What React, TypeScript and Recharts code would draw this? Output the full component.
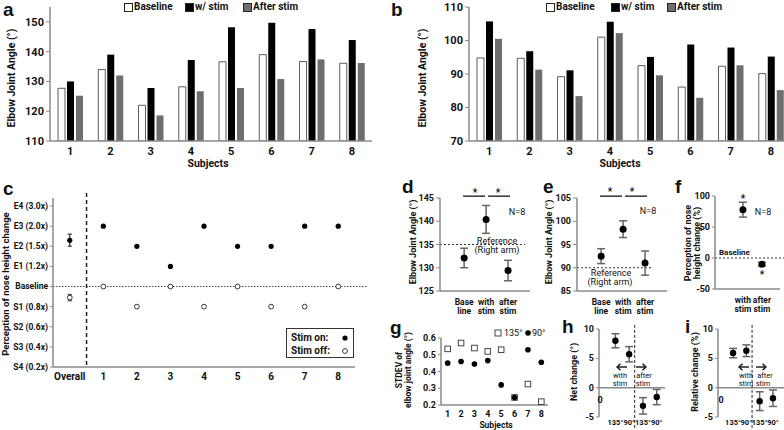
import React from "react";
import {
  BarChart,
  Bar,
  XAxis,
  YAxis,
  ScatterChart,
  Scatter,
  ErrorBar,
  ReferenceLine,
} from "recharts";

const FONT = "Roboto, sans-serif";
const LETTER_FONT = '"Liberation Sans", Arial, sans-serif';
const AXIS = "#8a8a8a";
const GRAY_BAR = "#6e6e6e";

// a / b : elbow angle per subject
const subjects = ["1", "2", "3", "4", "5", "6", "7", "8"];
const aBaseline = [127.7, 134, 122, 128.2, 136.6, 139, 136.7, 136.1];
const aWithStim = [130, 139, 127.8, 137.2, 148.2, 149.7, 147.6, 143.9];
const aAfterStim = [125.2, 132, 118.6, 126.7, 127.8, 130.8, 137.4, 136.2];
const bBaseline = [94.8, 94.7, 89.2, 101, 92.5, 86.1, 92.3, 90.1];
const bWithStim = [105.7, 96.8, 91.1, 105.6, 95.1, 98.8, 97.9, 95.2];
const bAfterStim = [100.5, 91.3, 83.4, 102.2, 89.6, 82.9, 92.6, 85.2];

// c : perception levels (0 = S4 ... 8 = E4)
const levels = [
  "S4 (0.2x)",
  "S3 (0.4x)",
  "S2 (0.6x)",
  "S1 (0.8x)",
  "Baseline",
  "E1 (1.2x)",
  "E2 (1.5x)",
  "E3 (2.0x)",
  "E4 (3.0x)",
];
const stimOnLevel = [7, 6, 5, 7, 6, 6, 7, 7];
const stimOffLevel = [4, 3, 4, 3, 4, 3, 3, 4];
const overallOn = 6.3;
const overallOnErr = 0.3;
const overallOff = 3.45;
const overallOffErr = 0.15;

// d / e / f : group means
const conditions = ["Base line", "with stim", "after stim"];
const dMean = [132.1, 140.4, 129.4];
const dErr = [2.1, 3.0, 2.2];
const eMean = [92.5, 98.3, 91.0];
const eErr = [1.6, 1.8, 2.6];
const fConditions = ["with stim", "after stim"];
const fMean = [78, -10];
const fErr = [12, 3];

// g : stdev per subject
const g135 = [0.535, 0.57, 0.54, 0.52, 0.53, 0.245, 0.325, 0.22];
const g90 = [0.45, 0.46, 0.445, 0.465, 0.32, 0.245, 0.53, 0.455];

// h / i : change by angle
const angleLabels = ["135°", "90°", "135°", "90°"];
const hMean = [8, 5.7, -3.1, -1.6];
const hErr = [1.2, 1.3, 1.4, 1.3];
const iMean = [5.9, 6.3, -2.3, -1.8];
const iErr = [0.8, 1.0, 1.6, 1.4];

const aData = subjects.map((s, i) => ({
  s,
  base: aBaseline[i],
  withStim: aWithStim[i],
  after: aAfterStim[i],
}));
const bData = subjects.map((s, i) => ({
  s,
  base: bBaseline[i],
  withStim: bWithStim[i],
  after: bAfterStim[i],
}));
const cOn = subjects.map((s, i) => ({ x: i + 1, y: stimOnLevel[i] }));
const cOff = subjects.map((s, i) => ({ x: i + 1, y: stimOffLevel[i] }));
const dData = conditions.map((c, i) => ({ x: i + 1, y: dMean[i], err: dErr[i] }));
const eData = conditions.map((c, i) => ({ x: i + 1, y: eMean[i], err: eErr[i] }));
const fData = fConditions.map((c, i) => ({ x: i + 1, y: fMean[i], err: fErr[i] }));
const g135Data = subjects.map((s, i) => ({ x: i + 1, y: g135[i] }));
const g90Data = subjects.map((s, i) => ({ x: i + 1, y: g90[i] }));
const hData = angleLabels.map((a, i) => ({ x: i + 1, y: hMean[i], err: hErr[i] }));
const iData = angleLabels.map((a, i) => ({ x: i + 1, y: iMean[i], err: iErr[i] }));

const axisLine = { stroke: AXIS, strokeWidth: 1.5 };

const dot = (r: number) => (p: any) =>
  <circle cx={p.cx} cy={p.cy} r={r} fill="#000" />;
const ring = (r: number) => (p: any) =>
  <circle cx={p.cx} cy={p.cy} r={r} fill="#fff" stroke="#222" strokeWidth={0.9} />;
const square = (p: any) => (
  <rect x={p.cx - 2.8} y={p.cy - 2.8} width={5.6} height={5.6} fill="#fff" stroke="#333" strokeWidth={0.9} />
);

// plain svg tick, no word wrapping
const PlainTick = (props: any) => {
  const { x, y, payload, fmt, anchor = "middle", dy = "0.35em", size = 11 } = props;
  return (
    <text x={x} y={y} dy={dy} textAnchor={anchor} fontSize={size} fontWeight={700} fill="#111">
      {fmt ? fmt(payload.value) : payload.value}
    </text>
  );
};

const TwoLineTick = (props: any) => {
  const { x, y, payload, labels, size = 8.5 } = props;
  const parts = String(labels[payload.value - 1] || "").split(" ");
  return (
    <g>
      <text x={x} y={y + 12} textAnchor="middle" fontSize={size} fontWeight={700} fill="#111">
        {parts[0]}
      </text>
      <text x={x} y={y + 21} textAnchor="middle" fontSize={size} fontWeight={700} fill="#111">
        {parts[1]}
      </text>
    </g>
  );
};

const Abs = ({ x, y, children }: any) => (
  <div style={{ position: "absolute", left: x, top: y }}>{children}</div>
);

const Txt = ({ x, y, size = 10, bold = true, rot = false, left = false, children }: any) => (
  <div
    style={{
      position: "absolute",
      left: x,
      top: y,
      transform: left
        ? "translate(0, -50%)"
        : `translate(-50%, -50%)${rot ? " rotate(-90deg)" : ""}`,
      fontSize: size,
      fontWeight: bold ? 700 : 400,
      whiteSpace: "nowrap",
      lineHeight: 1.0,
      textAlign: "center",
      color: "#111",
    }}
  >
    {children}
  </div>
);

const Letter = ({ x, y, children }: any) => (
  <div
    style={{
      position: "absolute",
      left: x,
      top: y,
      fontFamily: LETTER_FONT,
      fontSize: 19,
      fontWeight: 700,
      lineHeight: 1.0,
      color: "#111",
    }}
  >
    {children}
  </div>
);

const Swatch = ({ x, y, fill }: any) => (
  <div
    style={{
      position: "absolute",
      left: x,
      top: y,
      width: 7,
      height: 7,
      background: fill,
      border: "1px solid #222",
    }}
  />
);

// small horizontal arrow, drawn as svg so it stays crisp
const Arrow = ({ x, y, dir }: any) => (
  <svg style={{ position: "absolute", left: x - 6, top: y - 4 }} width={12} height={8}>
    <line x1={1} y1={4} x2={11} y2={4} stroke="#111" strokeWidth={1.4} />
    {dir < 0 ? (
      <polyline points="4.5,0.8 1,4 4.5,7.2" fill="none" stroke="#111" strokeWidth={1.4} />
    ) : (
      <polyline points="7.5,0.8 11,4 7.5,7.2" fill="none" stroke="#111" strokeWidth={1.4} />
    )}
  </svg>
);

const BarPanel = ({ data, domain, ticks }: any) => (
  <BarChart
    width={362}
    height={170}
    data={data}
    margin={{ top: 6, right: 0, left: 0, bottom: 0 }}
    barSize={7}
    barGap={2}
  >
    <XAxis
      dataKey="s"
      axisLine={axisLine}
      tickLine={false}
      tickSize={0}
      tick={<PlainTick size={11} dy="1.1em" />}
      height={30}
      interval={0}
    />
    <YAxis
      width={40}
      domain={domain}
      ticks={ticks}
      interval={0}
      axisLine={axisLine}
      tickLine={{ stroke: AXIS }}
      tickSize={4}
      tick={<PlainTick anchor="end" size={11} />}
      allowDataOverflow
    />
    <Bar dataKey="base" fill="#fff" stroke="#333" strokeWidth={0.8} isAnimationActive={false} />
    <Bar dataKey="withStim" fill="#000" isAnimationActive={false} />
    <Bar dataKey="after" fill={GRAY_BAR} isAnimationActive={false} />
  </BarChart>
);

const MeanPanel = ({ data, domain, ticks, refY, refEnd, sigY }: any) => (
  <ScatterChart width={120} height={129} margin={{ top: 10, right: 0, left: 0, bottom: 0 }}>
    <XAxis
      type="number"
      dataKey="x"
      domain={[-0.1, 4]}
      ticks={[1, 2, 3]}
      interval={0}
      tick={<TwoLineTick labels={conditions} size={8.5} />}
      tickLine={false}
      tickSize={0}
      axisLine={axisLine}
      height={26}
    />
    <YAxis
      type="number"
      dataKey="y"
      domain={domain}
      ticks={ticks}
      interval={0}
      width={30}
      axisLine={axisLine}
      tickLine={{ stroke: AXIS }}
      tickSize={4}
      tick={<PlainTick anchor="end" size={9} />}
    />
    <ReferenceLine
      segment={[{ x: -0.1, y: refY }, { x: refEnd, y: refY }]}
      stroke="#333"
      strokeDasharray="2 2"
      ifOverflow="visible"
    />
    <ReferenceLine
      segment={[{ x: 0.95, y: sigY }, { x: 1.95, y: sigY }]}
      stroke="#000"
      strokeWidth={1.2}
      ifOverflow="visible"
    />
    <ReferenceLine
      segment={[{ x: 2.09, y: sigY }, { x: 3.09, y: sigY }]}
      stroke="#000"
      strokeWidth={1.2}
      ifOverflow="visible"
    />
    <Scatter data={data} shape={dot(3.5)} isAnimationActive={false}>
      <ErrorBar dataKey="err" direction="y" width={4} stroke="#666" />
    </Scatter>
  </ScatterChart>
);

const ChangePanel = ({ data, xDomain, dashX }: any) => (
  <ScatterChart width={84} height={107} margin={{ top: 5, right: 0, left: 0, bottom: 0 }}>
    <XAxis
      type="number"
      dataKey="x"
      domain={xDomain}
      ticks={[1, 2, 3, 4]}
      interval={0}
      axisLine={false}
      tickLine={false}
      tickSize={0}
      tick={<PlainTick fmt={(v: number) => angleLabels[v - 1]} size={7.5} dy="0.85em" />}
      height={14}
    />
    <YAxis
      type="number"
      dataKey="y"
      domain={[-5, 10]}
      ticks={[-5, 0, 5, 10]}
      interval={0}
      width={18}
      axisLine={axisLine}
      tickLine={{ stroke: AXIS }}
      tickSize={3}
      tick={<PlainTick anchor="end" size={9} />}
    />
    <ReferenceLine y={0} stroke={AXIS} strokeWidth={1.5} />
    <ReferenceLine
      segment={[{ x: dashX, y: 10.7 }, { x: dashX, y: -7.2 }]}
      stroke="#222"
      strokeDasharray="3 2"
      ifOverflow="visible"
    />
    <Scatter data={data} shape={dot(3.2)} isAnimationActive={false}>
      <ErrorBar dataKey="err" direction="y" width={4} stroke="#666" />
    </Scatter>
  </ScatterChart>
);

export default function App() {
  return (
    <div
      style={{
        position: "absolute",
        left: 0,
        top: 0,
        width: 784,
        height: 430,
        background: "#fff",
        fontFamily: FONT,
        overflow: "hidden",
      }}
    >
      {/* panel a */}
      <Abs x={10} y={1}>
        <BarPanel data={aData} domain={[110, 155]} ticks={[110, 120, 130, 140, 150]} />
      </Abs>
      <Letter x={3} y={0}>a</Letter>
      <Txt x={12} y={78} size={10.5} rot>Elbow Joint Angle (°)</Txt>
      <Txt x={208} y={164} size={10.5}>Subjects</Txt>
      <Swatch x={124} y={3} fill="#fff" />
      <Txt x={134} y={7} size={10} left>Baseline</Txt>
      <Swatch x={185} y={3} fill="#000" />
      <Txt x={195} y={7} size={10} left>w/ stim</Txt>
      <Swatch x={243} y={3} fill={GRAY_BAR} />
      <Txt x={253} y={7} size={10} left>After stim</Txt>

      {/* panel b */}
      <Abs x={429} y={1}>
        <BarPanel data={bData} domain={[70, 110]} ticks={[70, 80, 90, 100, 110]} />
      </Abs>
      <Letter x={391} y={0}>b</Letter>
      <Txt x={423} y={78} size={10.5} rot>Elbow Joint Angle (°)</Txt>
      <Txt x={620} y={164} size={10.5}>Subjects</Txt>
      <Swatch x={546} y={3} fill="#fff" />
      <Txt x={556} y={7} size={10} left>Baseline</Txt>
      <Swatch x={611} y={3} fill="#000" />
      <Txt x={621} y={7} size={10} left>w/ stim</Txt>
      <Swatch x={667} y={3} fill={GRAY_BAR} />
      <Txt x={677} y={7} size={10} left>After stim</Txt>

      {/* panel c */}
      <Abs x={0} y={192}>
        <ScatterChart width={367} height={195} margin={{ top: 6, right: 12, left: 0, bottom: 0 }}>
          <XAxis
            type="number"
            dataKey="x"
            domain={[-0.5, 8.5]}
            ticks={[0, 1, 2, 3, 4, 5, 6, 7, 8]}
            interval={0}
            axisLine={axisLine}
            tickLine={false}
            tickSize={0}
            tick={
              <PlainTick
                fmt={(v: number) => (v === 0 ? "Overall" : String(v))}
                size={10}
                dy="1.1em"
              />
            }
            height={20}
          />
          <YAxis
            type="number"
            dataKey="y"
            domain={[0, 8.4]}
            ticks={[0, 1, 2, 3, 4, 5, 6, 7, 8]}
            interval={0}
            width={53}
            axisLine={axisLine}
            tickLine={{ stroke: AXIS }}
            tickSize={3}
            tick={<PlainTick fmt={(v: number) => levels[v]} anchor="end" size={8.5} />}
          />
          <ReferenceLine
            segment={[{ x: -0.5, y: 4 }, { x: 8.85, y: 4 }]}
            stroke="#444"
            strokeDasharray="1.5 1.5"
            ifOverflow="visible"
          />
          <ReferenceLine
            segment={[{ x: 0.5, y: 8.65 }, { x: 0.5, y: 0 }]}
            stroke="#222"
            strokeWidth={1.5}
            strokeDasharray="4 3"
            ifOverflow="visible"
          />
          <Scatter data={cOn} shape={dot(2.6)} isAnimationActive={false} />
          <Scatter data={cOff} shape={ring(2.4)} isAnimationActive={false} />
          <Scatter data={[{ x: 0, y: overallOn, err: overallOnErr }]} shape={dot(2.6)} isAnimationActive={false}>
            <ErrorBar dataKey="err" direction="y" width={2} stroke="#555" />
          </Scatter>
          <Scatter data={[{ x: 0, y: overallOff, err: overallOffErr }]} shape={ring(2.4)} isAnimationActive={false}>
            <ErrorBar dataKey="err" direction="y" width={2} stroke="#555" />
          </Scatter>
        </ScatterChart>
      </Abs>
      <Letter x={3} y={179}>c</Letter>
      <Txt x={6} y={284} size={9.5} rot>Perception of nose height change</Txt>
      <div
        style={{
          position: "absolute",
          left: 286,
          top: 328,
          width: 66,
          height: 28,
          border: "1.5px solid #333",
        }}
      />
      <Txt x={291} y={338} size={10} left>Stim on:</Txt>
      <Txt x={291} y={351} size={10} left>Stim off:</Txt>
      <svg style={{ position: "absolute", left: 338, top: 332 }} width={14} height={24}>
        <circle cx={7} cy={6} r={2.6} fill="#000" />
        <circle cx={7} cy={19} r={2.4} fill="#fff" stroke="#222" strokeWidth={0.9} />
      </svg>

      {/* panel d */}
      <Abs x={410} y={188}>
        <MeanPanel data={dData} domain={[125, 145]} ticks={[125, 130, 135, 140, 145]} refY={135} refEnd={3.77} sigY={145.4} />
      </Abs>
      <Letter x={402} y={177}>d</Letter>
      <Txt x={413} y={242} size={9} rot>Elbow Joint Angle (°)</Txt>
      <Txt x={475} y={193} size={10}>*</Txt>
      <Txt x={498} y={193} size={10}>*</Txt>
      <Txt x={517} y={212} size={9} bold={false}>N=8</Txt>
      <Txt x={497} y={241} size={9} bold={false}>Reference</Txt>
      <Txt x={497} y={250} size={9} bold={false}>(Right arm)</Txt>

      {/* panel e */}
      <Abs x={547} y={188}>
        <MeanPanel data={eData} domain={[85, 105]} ticks={[85, 90, 95, 100, 105]} refY={90} refEnd={3.33} sigY={105.4} />
      </Abs>
      <Letter x={543} y={177}>e</Letter>
      <Txt x={549} y={242} size={9} rot>Elbow Joint Angle (°)</Txt>
      <Txt x={610} y={192} size={10}>*</Txt>
      <Txt x={632} y={192} size={10}>*</Txt>
      <Txt x={648} y={211} size={9} bold={false}>N=8</Txt>
      <Txt x={611} y={273} size={9} bold={false}>Reference</Txt>
      <Txt x={610} y={282} size={9} bold={false}>(Right arm)</Txt>

      {/* panel f */}
      <Abs x={695} y={186}>
        <ScatterChart width={89} height={129} margin={{ top: 10, right: 4, left: 0, bottom: 0 }}>
          <XAxis
            type="number"
            dataKey="x"
            domain={[-0.47, 2.95]}
            ticks={[1, 2]}
            interval={0}
            tick={<TwoLineTick labels={fConditions} size={8.5} />}
            tickLine={false}
            tickSize={0}
            axisLine={axisLine}
            height={26}
          />
          <YAxis
            type="number"
            dataKey="y"
            domain={[-50, 100]}
            ticks={[-50, 0, 50, 100]}
            interval={0}
            width={20}
            axisLine={axisLine}
            tickLine={{ stroke: AXIS }}
            tickSize={3}
            tick={<PlainTick anchor="end" size={9} />}
          />
          <ReferenceLine
            segment={[{ x: -0.47, y: 0 }, { x: 3.2, y: 0 }]}
            stroke="#333"
            strokeDasharray="2 2"
            ifOverflow="visible"
          />
          <Scatter data={fData} shape={dot(3.5)} isAnimationActive={false}>
            <ErrorBar dataKey="err" direction="y" width={4} stroke="#666" />
          </Scatter>
        </ScatterChart>
      </Abs>
      <Letter x={675} y={177}>f</Letter>
      <Txt x={693} y={243} size={9} rot>
        Perception of nose
        <br />
        height change (%)
      </Txt>
      <Txt x={743} y={199} size={10}>*</Txt>
      <Txt x={762} y={275} size={10}>*</Txt>
      <Txt x={763} y={212} size={9} bold={false}>N=8</Txt>
      <Txt x={719} y={253} size={8} left>Baseline</Txt>

      {/* panel g */}
      <Abs x={419} y={332}>
        <ScatterChart width={129} height={87} margin={{ top: 6, right: 0, left: 0, bottom: 0 }}>
          <XAxis
            type="number"
            dataKey="x"
            domain={[0.5, 8.5]}
            ticks={[1, 2, 3, 4, 5, 6, 7, 8]}
            interval={0}
            axisLine={axisLine}
            tickLine={false}
            tickSize={0}
            tick={<PlainTick size={9} dy="1.1em" />}
            height={14}
          />
          <YAxis
            type="number"
            dataKey="y"
            domain={[0.2, 0.6]}
            ticks={[0.2, 0.3, 0.4, 0.5, 0.6]}
            interval={0}
            width={22}
            axisLine={axisLine}
            tickLine={{ stroke: AXIS }}
            tickSize={3}
            tick={<PlainTick fmt={(v: number) => v.toFixed(1)} anchor="end" size={9} />}
          />
          <Scatter data={g135Data} shape={square} isAnimationActive={false} />
          <Scatter data={g90Data} shape={dot(2.8)} isAnimationActive={false} />
        </ScatterChart>
      </Abs>
      <Letter x={390} y={318}>g</Letter>
      <Txt x={403} y={370} size={8.5} rot>
        STDEV of
        <br />
        elbow joint angle (°)
      </Txt>
      <Txt x={496} y={425} size={8.5}>Subjects</Txt>
      <svg style={{ position: "absolute", left: 493, top: 328 }} width={40} height={10}>
        <rect x={2} y={2} width={6} height={6} fill="#fff" stroke="#333" strokeWidth={0.9} />
        <circle cx={35} cy={5} r={2.8} fill="#000" />
      </svg>
      <Txt x={504} y={333} size={9} bold={false} left>135°</Txt>
      <Txt x={532} y={333} size={9} bold={false} left>90°</Txt>

      {/* panel h */}
      <Abs x={581} y={324}>
        <ChangePanel data={hData} xDomain={[-0.19, 4.6]} dashX={2.4} />
      </Abs>
      <Letter x={562} y={317}>h</Letter>
      <Txt x={574} y={372} size={9} rot>Net change (°)</Txt>
      <Txt x={600} y={400} size={9}>0</Txt>
      <Arrow x={622} y={367} dir={-1} />
      <Arrow x={641} y={367} dir={1} />
      <Txt x={620} y={376} size={7.5} bold={false}>with</Txt>
      <Txt x={620} y={383.5} size={7.5} bold={false}>stim</Txt>
      <Txt x={644} y={376} size={7.5} bold={false}>after</Txt>
      <Txt x={643} y={383.5} size={7.5} bold={false}>stim</Txt>

      {/* panel i */}
      <Abs x={700} y={324}>
        <ChangePanel data={iData} xDomain={[-0.13, 4.83]} dashX={2.43} />
      </Abs>
      <Letter x={685} y={317}>i</Letter>
      <Txt x={695} y={372} size={9} rot>Relative change (%)</Txt>
      <Txt x={721} y={400} size={9}>0</Txt>
      <Arrow x={744} y={367} dir={-1} />
      <Arrow x={761} y={367} dir={1} />
      <Txt x={746} y={376} size={7.5} bold={false}>with</Txt>
      <Txt x={746} y={383.5} size={7.5} bold={false}>stim</Txt>
      <Txt x={765} y={376} size={7.5} bold={false}>after</Txt>
      <Txt x={763} y={383.5} size={7.5} bold={false}>stim</Txt>
    </div>
  );
}
